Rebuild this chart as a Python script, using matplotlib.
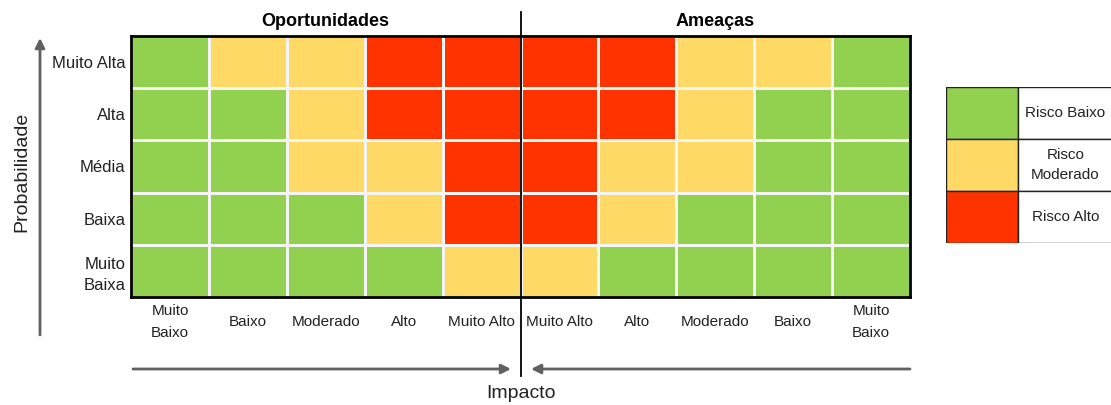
import matplotlib
matplotlib.use("Agg")
import matplotlib.pyplot as plt
from matplotlib.colors import ListedColormap
import numpy as np

plt.rcParams['font.family'] = ['Liberation Sans', 'DejaVu Sans']

# Probability rows (top to bottom) and impact columns (opportunities | threats)
prob_labels = ["Muito Alta", "Alta", "Média", "Baixa", "Muito\nBaixa"]
impact_labels = ["Muito\nBaixo", "Baixo", "Moderado", "Alto", "Muito Alto",
                 "Muito Alto", "Alto", "Moderado", "Baixo", "Muito\nBaixo"]

# 0 = low risk, 1 = moderate, 2 = high
risk = [
  [0, 1, 1, 2, 2, 2, 2, 1, 1, 0],
  [0, 0, 1, 2, 2, 2, 2, 1, 0, 0],
  [0, 0, 1, 1, 2, 2, 1, 1, 0, 0],
  [0, 0, 0, 1, 2, 2, 1, 0, 0, 0],
  [0, 0, 0, 0, 1, 1, 0, 0, 0, 0],
]

risk_names = ["Risco Baixo", "Risco\nModerado", "Risco Alto"]
risk_colors = ["#92d050", "#ffd966", "#ff3300"]

W, H = 1111, 405
fig = plt.figure(figsize=(W / 100, H / 100), dpi=100)

def box(x0, y0, x1, y1):
  # pixel box (top-left origin) -> figure fraction rect
  return [x0 / W, 1 - y1 / H, (x1 - x0) / W, (y1 - y0) / H]

# Main risk matrix
ax = fig.add_axes(box(131, 36, 910, 297))
cmap = ListedColormap(risk_colors)
data = np.array(risk)[::-1]
ax.pcolormesh(data, cmap=cmap, vmin=-0.5, vmax=2.5, edgecolors="#f4f4f4", linewidth=0.8)
ax.set_xlim(0, 10)
ax.set_ylim(0, 5)
for s in ax.spines.values():
  s.set_linewidth(2)
  s.set_color("black")
ax.set_xticks(np.arange(10) + 0.5)
ax.set_xticklabels(impact_labels, fontsize=11, color="#222222", linespacing=1.7, va="center")
ax.set_yticks(np.arange(5) + 0.5)
ax.set_yticklabels(prob_labels[::-1], fontsize=12, color="#222222", linespacing=1.5)
ax.tick_params(length=0, pad=4)
ax.tick_params(axis="x", pad=18)

# Section titles
ax.text(2.5, 5.12, "Oportunidades", ha="center", va="bottom", fontsize=13, fontweight="bold")
ax.text(7.5, 5.12, "Ameaças", ha="center", va="bottom", fontsize=13, fontweight="bold")

# Overlay axes in pixel coordinates for divider, arrows and labels
ov = fig.add_axes([0, 0, 1, 1])
ov.set_xlim(0, W)
ov.set_ylim(H, 0)
ov.axis("off")
ov.patch.set_alpha(0)

ov.plot([521, 521], [12, 376], color="black", lw=1.3)

arrow = dict(arrowstyle="-|>", color="#606060", lw=2, mutation_scale=14, shrinkA=0, shrinkB=0)
ov.annotate("", xy=(40, 38), xytext=(40, 335), arrowprops=arrow)
ov.annotate("", xy=(511, 369), xytext=(133, 369), arrowprops=arrow)
ov.annotate("", xy=(531, 369), xytext=(910, 369), arrowprops=arrow)

ov.text(22, 172, "Probabilidade", rotation=90, ha="center", va="center", fontsize=14, color="#222222")
ov.text(521, 394, "Impacto", ha="center", va="center", fontsize=14, color="#222222")

# Legend table
lg = fig.add_axes(box(946, 87, 1114, 243))
lg.set_xlim(0, 1)
lg.set_ylim(3, 0)
lg.axis("off")
for i, (name, col) in enumerate(zip(risk_names, risk_colors)):
  lg.add_patch(plt.Rectangle((0, i), 0.43, 1, facecolor=col, edgecolor="#222222", lw=1))
  lg.add_patch(plt.Rectangle((0.43, i), 0.57, 1, facecolor="white", edgecolor="#222222", lw=1))
  lg.text(0.71, i + 0.5, name, ha="center", va="center", fontsize=11, color="#222222",
          multialignment="center", linespacing=1.6)

fig.savefig("out.png", dpi=100)
